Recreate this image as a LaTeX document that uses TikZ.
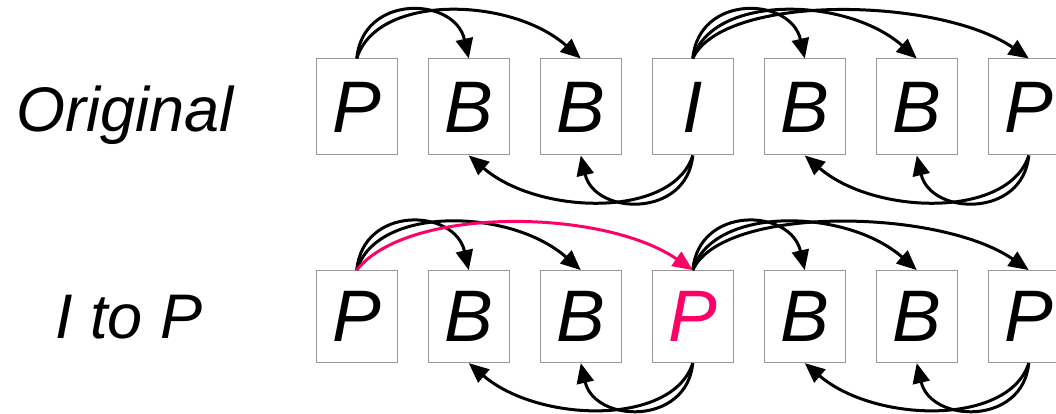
\documentclass[tikz,border=0pt]{standalone}
\usepackage{fontspec}
\setmainfont{Liberation Sans}
\usetikzlibrary{arrows.meta,calc}
\definecolor{hot}{RGB}{255,0,102}
\definecolor{boxcol}{RGB}{153,153,153}

\begin{document}
\begin{tikzpicture}[x=1pt,y=-1pt,
  framebox/.style={draw=boxcol, line width=1pt, minimum width=80.5pt, inner sep=0pt,
                   font=\fontsize{73}{73}\selectfont\itshape},
  toprow/.style={framebox, minimum height=96pt},
  botrow/.style={framebox, minimum height=92pt},
  link/.style={line width=3pt, -{Triangle[length=20pt,width=17pt]}},
  rowlabel/.style={font=\fontsize{63}{63}\selectfont\itshape, inner sep=0pt, anchor=base},
  % forward references over one, two and three frames (arc above the row)
  fwdA/.style={to path={.. controls ($(\tikztostart)+(6,-65)$) and ($(\tikztotarget)+(-14,-62)$) .. (\tikztotarget)}},
  fwdB/.style={to path={.. controls ($(\tikztostart)+(20,-65)$) and ($(\tikztotarget)+(-70,-62)$) .. (\tikztotarget)}},
  fwdC/.style={to path={.. controls ($(\tikztostart)+(30,-65)$) and ($(\tikztotarget)+(-90,-62)$) .. (\tikztotarget)}},
  fwdR/.style={to path={.. controls ($(\tikztostart)+(50,-64)$) and ($(\tikztotarget)+(-90,-62)$) .. (\tikztotarget)}},
  % backward references (arc below the row)
  backA/.style={to path={.. controls ($(\tikztostart)+(-6,63)$) and ($(\tikztotarget)+(14,60)$) .. (\tikztotarget)}},
  backB/.style={to path={.. controls ($(\tikztostart)+(-20,63)$) and ($(\tikztotarget)+(70,60)$) .. (\tikztotarget)}}
]
\useasboundingbox (0,0) rectangle (1056,414);

% row labels
\node[rowlabel] (lab1) at (125,132) {Original};
\node[rowlabel] (lab2) at (129,338) {I to P};

% original sequence
\node[toprow] (t1) at (356.75,107) {P};
\node[toprow] (t2) at (468.75,107) {B};
\node[toprow] (t3) at (580.75,107) {B};
\node[toprow] (t4) at (692.75,107) {I};
\node[toprow] (t5) at (804.75,107) {B};
\node[toprow] (t6) at (916.75,107) {B};
\node[toprow] (t7) at (1028.75,107) {P};

% converted sequence
\node[botrow] (b1) at (356.75,316.6) {P};
\node[botrow] (b2) at (468.75,316.6) {B};
\node[botrow] (b3) at (580.75,316.6) {B};
\node[botrow, text=hot] (b4) at (692.75,316.6) {P};
\node[botrow] (b5) at (804.75,316.6) {B};
\node[botrow] (b6) at (916.75,316.6) {B};
\node[botrow] (b7) at (1028.75,316.6) {P};

% references, original
\draw[link,fwdA] (t1.north) to (t2.north);
\draw[link,fwdB] (t1.north) to (t3.north);
\draw[link,fwdA] (t4.north) to (t5.north);
\draw[link,fwdB] (t4.north) to (t6.north);
\draw[link,fwdC] (t4.north) to (t7.north);
\draw[link,backA] (t4.south) to (t3.south);
\draw[link,backB] (t4.south) to (t2.south);
\draw[link,backA] (t7.south) to (t6.south);
\draw[link,backB] (t7.south) to (t5.south);

% references, converted
\draw[link,fwdA] (b1.north) to (b2.north);
\draw[link,fwdB] (b1.north) to (b3.north);
\draw[link,fwdA] (b4.north) to (b5.north);
\draw[link,fwdB] (b4.north) to (b6.north);
\draw[link,fwdC] (b4.north) to (b7.north);
\draw[link,backA] (b4.south) to (b3.south);
\draw[link,backB] (b4.south) to (b2.south);
\draw[link,backA] (b7.south) to (b6.south);
\draw[link,backB] (b7.south) to (b5.south);
\draw[link,color=hot,fwdR] (b1.north) to (b4.north);
\end{tikzpicture}
\end{document}
